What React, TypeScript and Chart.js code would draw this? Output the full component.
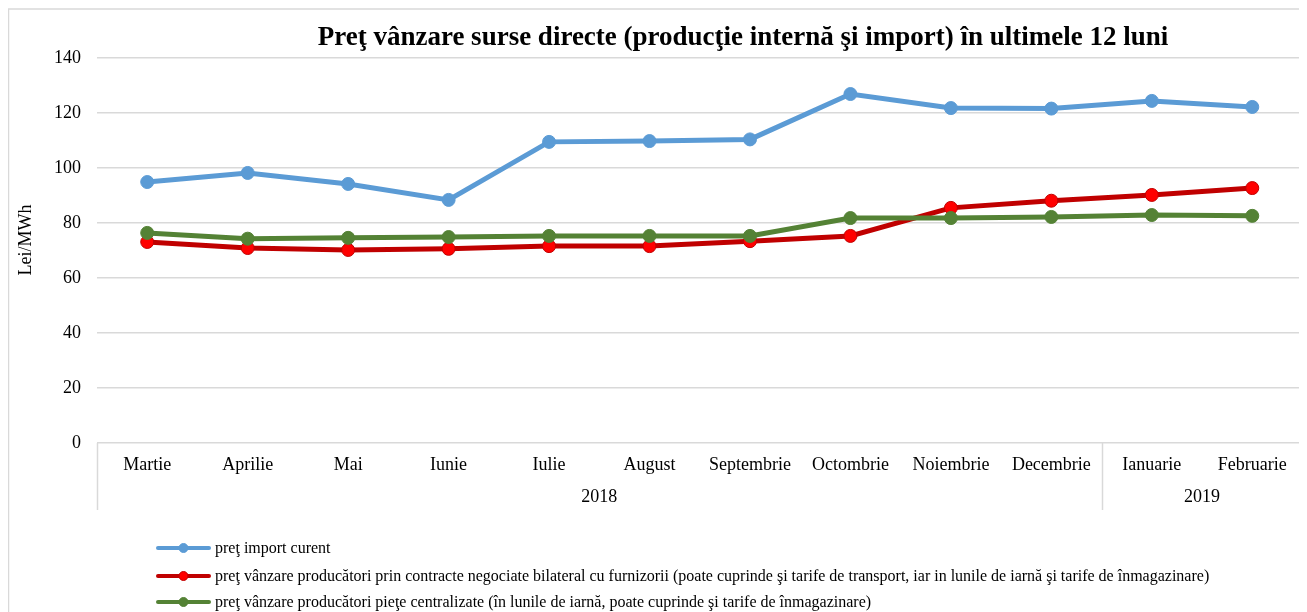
import React, { useEffect, useRef } from "react";
import { Chart, registerables } from "chart.js";

Chart.register(...registerables);

const TITLE = "Preţ vânzare surse directe (producţie internă şi import) în ultimele 12 luni";
const Y_TITLE = "Lei/MWh";

const months = [
  "Martie", "Aprilie", "Mai", "Iunie", "Iulie", "August",
  "Septembrie", "Octombrie", "Noiembrie", "Decembrie", "Ianuarie", "Februarie",
];
const years = ["2018", "2019"];
const yearSpans = [10, 2];

const importPrice = [94.9, 98.2, 94.2, 88.4, 109.5, 109.8, 110.4, 126.9, 121.8, 121.6, 124.4, 122.2];
const bilateralPrice = [73.1, 70.9, 70.2, 70.6, 71.6, 71.6, 73.4, 75.3, 85.5, 88.1, 90.2, 92.7];
const centralPrice = [76.4, 74.3, 74.6, 74.9, 75.3, 75.3, 75.3, 81.8, 81.8, 82.2, 82.9, 82.6];

const seriesNames = [
  "preţ import curent",
  "preţ vânzare producători prin contracte negociate bilateral cu furnizorii (poate cuprinde şi tarife de transport, iar in lunile de iarnă şi tarife de înmagazinare)",
  "preţ vânzare producători pieţe centralizate (în lunile de iarnă, poate cuprinde şi tarife de înmagazinare)",
];

const yMax = 140;
const yStep = 20;

const SERIF = '"Liberation Serif", "Times New Roman", serif';
const GRID = "#d9d9d9";

const styles = [
  { line: "#5B9BD5", fill: "#5B9BD5", border: "#5B9BD5" },
  { line: "#C00000", fill: "#FF0000", border: "#C00000" },
  { line: "#548235", fill: "#548235", border: "#548235" },
];

export default function App() {
  const ref = useRef<HTMLCanvasElement>(null);

  useEffect(() => {
    const canvas = ref.current;
    if (!canvas) return;

    const overlay = {
      id: "overlay",
      afterDraw(chart: any) {
        const ctx = chart.ctx as CanvasRenderingContext2D;
        const area = chart.chartArea;
        const xs = chart.scales.x;
        ctx.save();

        // outer border (left & top visible)
        ctx.strokeStyle = GRID;
        ctx.lineWidth = 1.5;
        ctx.beginPath();
        ctx.moveTo(0.5, chart.height);
        ctx.lineTo(0.5, 1);
        ctx.lineTo(chart.width, 1);
        ctx.stroke();

        // title
        ctx.fillStyle = "#000";
        ctx.font = `bold 27px ${SERIF}`;
        ctx.textAlign = "center";
        ctx.textBaseline = "middle";
        ctx.fillText(TITLE, 735, 30);

        // y title
        ctx.save();
        ctx.translate(18, 232);
        ctx.rotate(-Math.PI / 2);
        ctx.font = `18px ${SERIF}`;
        ctx.fillText(Y_TITLE, 0, 0);
        ctx.restore();

        // month labels
        ctx.font = `18px ${SERIF}`;
        months.forEach((m, i) => {
          ctx.fillText(m, xs.getPixelForValue(i), 457);
        });

        // year labels & dividers
        const catW = (area.right - area.left) / months.length;
        let start = 0;
        ctx.strokeStyle = GRID;
        ctx.lineWidth = 1.5;
        const drawDiv = (x: number) => {
          ctx.beginPath();
          ctx.moveTo(Math.round(x) + 0.5, area.bottom);
          ctx.lineTo(Math.round(x) + 0.5, 502);
          ctx.stroke();
        };
        drawDiv(area.left);
        years.forEach((y, k) => {
          const x0 = area.left + start * catW;
          const x1 = area.left + (start + yearSpans[k]) * catW;
          ctx.fillText(y, (x0 + x1) / 2, 489);
          drawDiv(x1);
          start += yearSpans[k];
        });

        // legend
        ctx.font = `16px ${SERIF}`;
        ctx.textAlign = "left";
        const rows = [540, 568, 594];
        seriesNames.forEach((name, i) => {
          const st = styles[i];
          const y = rows[i];
          ctx.strokeStyle = st.line;
          ctx.lineWidth = 4;
          ctx.lineCap = "round";
          ctx.beginPath();
          ctx.moveTo(150, y);
          ctx.lineTo(201, y);
          ctx.stroke();
          ctx.beginPath();
          ctx.arc(175.5, y, 4.5, 0, Math.PI * 2);
          ctx.fillStyle = st.fill;
          ctx.fill();
          ctx.lineWidth = 1;
          ctx.strokeStyle = st.border;
          ctx.stroke();
          ctx.fillStyle = "#000";
          ctx.fillText(name, 207, y + 1);
        });

        ctx.restore();
      },
    };

    const data = [importPrice, bilateralPrice, centralPrice];
    const chart = new Chart(canvas, {
      type: "line",
      data: {
        labels: months,
        datasets: data.map((d, i) => ({
          label: seriesNames[i],
          data: d,
          borderColor: styles[i].line,
          backgroundColor: styles[i].fill,
          pointBackgroundColor: styles[i].fill,
          pointBorderColor: styles[i].border,
          pointBorderWidth: 1,
          pointRadius: 6.5,
          borderWidth: 5,
          tension: 0,
          order: 2 - i,
        })),
      },
      options: {
        responsive: false,
        animation: false,
        devicePixelRatio: 1,
        layout: { padding: { top: 50, left: 0, right: 0, bottom: 0 } },
        plugins: {
          legend: { display: false },
          title: { display: false },
          tooltip: { enabled: false },
        },
        scales: {
          x: {
            type: "category",
            offset: true,
            grid: { display: false },
            border: { display: false },
            ticks: { display: false },
            afterFit: (s: any) => {
              s.height = 169;
            },
          },
          y: {
            min: 0,
            max: yMax,
            ticks: {
              stepSize: yStep,
              color: "#000",
              font: { family: SERIF, size: 18 },
              padding: 16,
            },
            grid: { color: GRID, lineWidth: 1.5, drawTicks: false },
            border: { display: false },
            afterFit: (s: any) => {
              s.width = 89;
            },
          },
        },
      },
      plugins: [overlay],
    });

    return () => chart.destroy();
  }, []);

  return (
    <div style={{ width: 1299, height: 604, overflow: "hidden" }}>
      <canvas ref={ref} width={1302} height={604} style={{ display: "block" }} />
    </div>
  );
}
